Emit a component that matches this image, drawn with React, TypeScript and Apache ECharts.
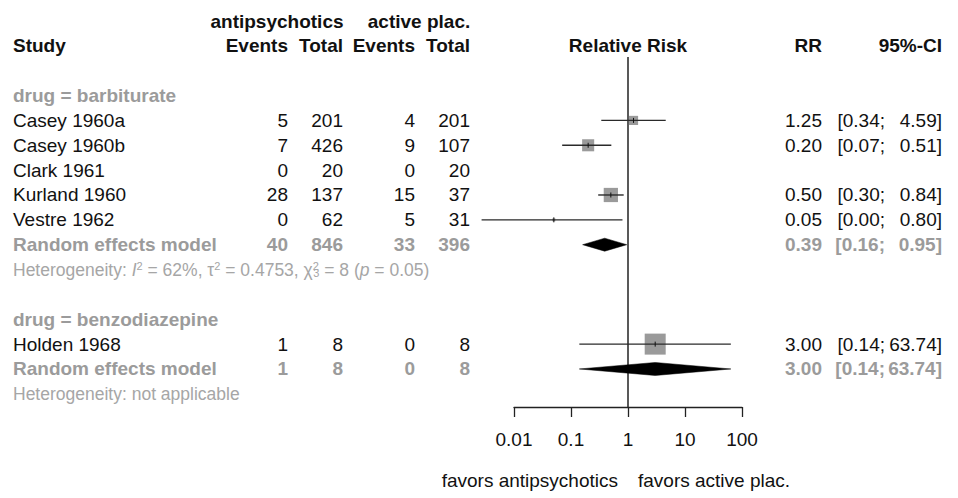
import React, { useEffect, useRef } from "react";
import * as echarts from "echarts";

// ---------- data ----------
const headerTop = ["antipsychotics", "active plac."];
const headerCols = ["Study", "Events", "Total", "Events", "Total", "Relative Risk", "RR", "95%-CI"];

const studyNames = ["Casey 1960a", "Casey 1960b", "Clark 1961", "Kurland 1960", "Vestre 1962", "Holden 1968"];
const studyRows = [4, 5, 6, 7, 8, 13];
const eventsAnti = [5, 7, 0, 28, 0, 1];
const totalAnti = [201, 426, 20, 137, 62, 8];
const eventsPlac = [4, 9, 0, 15, 5, 0];
const totalPlac = [201, 107, 20, 37, 31, 8];
const rrEst: (number | null)[] = [1.25, 0.2, null, 0.5, 0.05, 3.0];
const ciLow: (number | null)[] = [0.34, 0.07, null, 0.3, 0.0027, 0.14];
const ciHigh: (number | null)[] = [4.59, 0.51, null, 0.84, 0.8, 63.74];
const studyWeight = [19, 33, 0, 46, 2, 100];

const groupLabels = ["drug = barbiturate", "drug = benzodiazepine"];
const groupRows = [3, 12];
const poolLabel = "Random effects model";
const poolRows = [9, 14];
const poolEventsAnti = [40, 1];
const poolTotalAnti = [846, 8];
const poolEventsPlac = [33, 0];
const poolTotalPlac = [396, 8];
const poolRR = [0.39, 3.0];
const poolLow = [0.16, 0.14];
const poolHigh = [0.95, 63.74];
const hetRows = [10, 15];
const hetTexts = [
  "Heterogeneity: {i|I}{sup|2} = 62%, τ{sup|2} = 0.4753, χ{supz|2}{sub|3} = 8 ({i|p} = 0.05)",
  "Heterogeneity: not applicable",
];

const xTicks = [0.01, 0.1, 1, 10, 100];
const xTickLabels = ["0.01", "0.1", "1", "10", "100"];
const favorLabels = ["favors antipsychotics", "favors active plac."];

// ---------- layout / style ----------
const FONT = "'Liberation Sans', Arial, Helvetica, sans-serif";
const FS = 19;
const HET_FS = 17.5;
const BLACK = "#111111";
const GRAY = "#9b9b9b";
const HET_GRAY = "#a6a6a6";
const ROW_MAX = 15.53;
const FAVOR_ROW = 18.47;
const REF_TOP_ROW = 1.45;

const X_STUDY = 13;
const X_EA = 288;
const X_TA = 343;
const X_EP = 415;
const X_TP = 470;
const X_HDR_A = 277;
const X_HDR_P = 419;
const X_REL = 628;
const X_RR = 822;
const X_CIL = 885;
const X_CIH = 942;

type TItem = {
  row: number;
  x: number;
  text: string;
  align: "left" | "right" | "center";
  bold?: boolean;
  color?: string;
  size?: number;
  rich?: boolean;
};

function buildTexts(): TItem[] {
  const t: TItem[] = [];
  t.push({ row: 0, x: X_HDR_A, text: headerTop[0], align: "center", bold: true });
  t.push({ row: 0, x: X_HDR_P, text: headerTop[1], align: "center", bold: true });
  const hx = [X_STUDY, X_EA, X_TA, X_EP, X_TP, X_REL, X_RR, X_CIH];
  const ha: TItem["align"][] = ["left", "right", "right", "right", "right", "center", "right", "right"];
  headerCols.forEach((h, i) => t.push({ row: 1, x: hx[i], text: h, align: ha[i], bold: true }));

  groupLabels.forEach((g, i) =>
    t.push({ row: groupRows[i], x: X_STUDY, text: g, align: "left", bold: true, color: GRAY })
  );

  studyNames.forEach((n, i) => {
    const r = studyRows[i];
    t.push({ row: r, x: X_STUDY, text: n, align: "left" });
    t.push({ row: r, x: X_EA, text: String(eventsAnti[i]), align: "right" });
    t.push({ row: r, x: X_TA, text: String(totalAnti[i]), align: "right" });
    t.push({ row: r, x: X_EP, text: String(eventsPlac[i]), align: "right" });
    t.push({ row: r, x: X_TP, text: String(totalPlac[i]), align: "right" });
    const rr = rrEst[i];
    if (rr != null) {
      t.push({ row: r, x: X_RR, text: rr.toFixed(2), align: "right" });
      t.push({ row: r, x: X_CIL, text: "[" + (ciLow[i] as number).toFixed(2) + ";", align: "right" });
      t.push({ row: r, x: X_CIH, text: (ciHigh[i] as number).toFixed(2) + "]", align: "right" });
    }
  });

  poolRows.forEach((r, i) => {
    const o = { bold: true, color: GRAY };
    t.push({ row: r, x: X_STUDY, text: poolLabel, align: "left", ...o });
    t.push({ row: r, x: X_EA, text: String(poolEventsAnti[i]), align: "right", ...o });
    t.push({ row: r, x: X_TA, text: String(poolTotalAnti[i]), align: "right", ...o });
    t.push({ row: r, x: X_EP, text: String(poolEventsPlac[i]), align: "right", ...o });
    t.push({ row: r, x: X_TP, text: String(poolTotalPlac[i]), align: "right", ...o });
    t.push({ row: r, x: X_RR, text: poolRR[i].toFixed(2), align: "right", ...o });
    t.push({ row: r, x: X_CIL, text: "[" + poolLow[i].toFixed(2) + ";", align: "right", ...o });
    t.push({ row: r, x: X_CIH, text: poolHigh[i].toFixed(2) + "]", align: "right", ...o });
  });

  hetRows.forEach((r, i) =>
    t.push({ row: r, x: X_STUDY, text: hetTexts[i], align: "left", color: HET_GRAY, size: HET_FS, rich: true })
  );

  t.push({ row: FAVOR_ROW, x: 618, text: favorLabels[0], align: "right" });
  t.push({ row: FAVOR_ROW, x: 638, text: favorLabels[1], align: "left" });
  return t;
}

export default function App() {
  const ref = useRef<HTMLDivElement>(null);
  useEffect(() => {
    const chart = echarts.init(ref.current!, null, { renderer: "svg" });
    const texts = buildTexts();

    const studyData: number[][] = [];
    rrEst.forEach((rr, i) => {
      if (rr != null) studyData.push([rr, studyRows[i], ciLow[i] as number, ciHigh[i] as number, studyWeight[i]]);
    });
    const poolData = poolRR.map((rr, i) => [rr, poolRows[i], poolLow[i], poolHigh[i]]);

    const richStyles = {
      i: { fontStyle: "italic", fontFamily: FONT, fontSize: HET_FS, fill: HET_GRAY },
      sup: { fontFamily: FONT, fontSize: 11, fill: HET_GRAY, verticalAlign: "top" },
      supz: { fontFamily: FONT, fontSize: 11, fill: HET_GRAY, verticalAlign: "top", width: 0.5 },
      sub: { fontFamily: FONT, fontSize: 11, fill: HET_GRAY, verticalAlign: "bottom" },
    };

    const option: any = {
      animation: false,
      backgroundColor: "#ffffff",
      grid: { left: 514, right: 216, top: 21, bottom: 91, containLabel: false },
      xAxis: {
        type: "log",
        logBase: 10,
        min: 0.01,
        max: 100,
        position: "bottom",
        axisLine: { show: true, onZero: false, lineStyle: { color: "#222", width: 1.3 } },
        axisTick: { show: true, length: 10, lineStyle: { color: "#222", width: 1.3 } },
        minorTick: { show: false },
        splitLine: { show: false },
        axisLabel: {
          color: BLACK,
          fontSize: FS,
          fontFamily: FONT,
          margin: 23,
          formatter: (v: number) => {
            const idx = xTicks.findIndex((t) => Math.abs(Math.log10(t) - Math.log10(v)) < 1e-6);
            return idx >= 0 ? xTickLabels[idx] : "";
          },
        },
      },
      yAxis: { type: "value", inverse: true, min: 0, max: ROW_MAX, show: false },
      series: [
        {
          type: "custom",
          name: "ref",
          silent: true,
          clip: false,
          data: [[1, REF_TOP_ROW]],
          renderItem: (params: any, api: any) => {
            const a = api.coord([api.value(0), api.value(1)]);
            const b = api.coord([api.value(0), ROW_MAX]);
            return {
              type: "line",
              shape: { x1: a[0], y1: a[1], x2: b[0], y2: b[1] },
              style: { stroke: "#222", lineWidth: 1.5 },
            };
          },
        },
        {
          type: "custom",
          name: "studies",
          silent: true,
          clip: false,
          data: studyData,
          renderItem: (params: any, api: any) => {
            const rr = api.value(0);
            const row = api.value(1);
            const c = api.coord([rr, row]);
            const l = api.coord([api.value(2), row]);
            const h = api.coord([api.value(3), row]);
            const side = 2.1 * Math.sqrt(api.value(4));
            return {
              type: "group",
              children: [
                {
                  type: "rect",
                  shape: { x: c[0] - side / 2, y: c[1] - side / 2, width: side, height: side },
                  style: { fill: "#9a9a9a" },
                },
                {
                  type: "line",
                  shape: { x1: l[0], y1: c[1], x2: h[0], y2: c[1] },
                  style: { stroke: "#2a2a2a", lineWidth: 1.4 },
                },
                {
                  type: "line",
                  shape: { x1: c[0], y1: c[1] - 2.5, x2: c[0], y2: c[1] + 2.5 },
                  style: { stroke: "#111", lineWidth: 1 },
                },
              ],
            };
          },
        },
        {
          type: "custom",
          name: "pooled",
          silent: true,
          clip: false,
          data: poolData,
          renderItem: (params: any, api: any) => {
            const row = api.value(1);
            const c = api.coord([api.value(0), row]);
            const l = api.coord([api.value(2), row]);
            const h = api.coord([api.value(3), row]);
            const hh = 6.5;
            return {
              type: "polygon",
              shape: { points: [[l[0], c[1]], [c[0], c[1] - hh], [h[0], c[1]], [c[0], c[1] + hh]] },
              style: { fill: "#000", stroke: "#000", lineWidth: 0.5 },
            };
          },
        },
        {
          type: "custom",
          name: "texts",
          silent: true,
          clip: false,
          data: texts.map((t, i) => [1, t.row, i]),
          renderItem: (params: any, api: any) => {
            const t = texts[params.dataIndex];
            const y = api.coord([1, t.row])[1];
            const style: any = {
              text: t.text,
              fill: t.color || BLACK,
              fontFamily: FONT,
              fontSize: t.size || FS,
              fontWeight: t.bold ? "bold" : "normal",
              align: t.align,
              verticalAlign: "middle",
            };
            if (t.rich) style.rich = richStyles;
            return { type: "text", x: t.x, y, style };
          },
        },
      ],
    };
    chart.setOption(option);
    return () => chart.dispose();
  }, []);
  return (
    <div
      ref={ref}
      style={{ position: "fixed", left: 0, top: 0, width: 958, height: 498, background: "#fff" }}
    />
  );
}
